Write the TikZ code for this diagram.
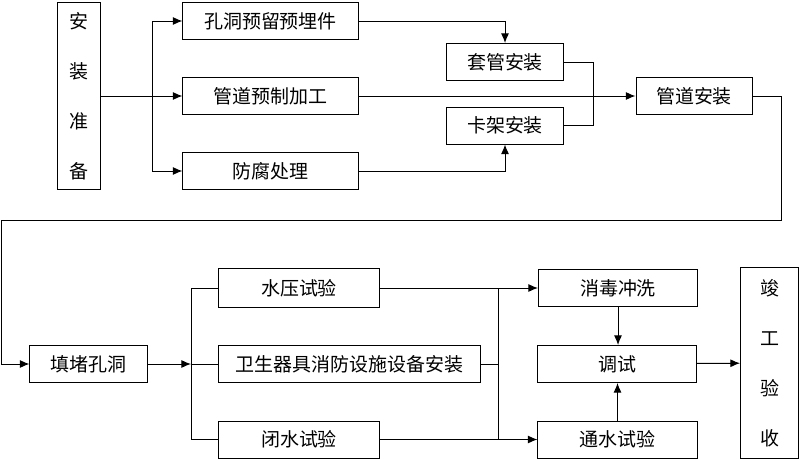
\documentclass[tikz,border=0pt]{standalone}
\usepackage{fontspec}
\setmainfont{Noto Sans CJK SC}
\usetikzlibrary{arrows.meta, positioning}

\begin{document}
\begin{tikzpicture}[
>={Latex[length=2.4mm,width=2mm]},
x=0.025cm, y=-0.025cm,
line width=0.7pt,
every node/.style={font=\fontsize{13.5}{16}\selectfont},
box/.style={draw, minimum height=0.925cm, inner sep=0pt},
vbox/.style={draw, align=center, inner sep=0pt, font=\fontsize{13.5}{35.5}\selectfont},
]
\useasboundingbox (0,0) rectangle (800,459);

%% upper row
% nodes
\node[vbox, minimum width=1.075cm, minimum height=4.675cm] (AZ) at (78.5,96) {安\\装\\准\\备};
\node[box, minimum width=4.375cm] (KD) at (270.5,21) {孔洞预留预埋件};
\node[box, minimum width=4.375cm] (GZ) at (270.5,96) {管道预制加工};
\node[box, minimum width=4.375cm] (FF) at (270.5,171) {防腐处理};
\node[box, minimum width=2.925cm] (TG) at (505,62) {套管安装};
\node[box, minimum width=2.925cm] (KJ) at (505,125.5) {卡架安装};
\node[box, minimum width=2.9cm] (GA) at (694,96) {管道安装};
\coordinate (B1) at (152,96);
\coordinate (R1) at (593,96);
\coordinate (C1) at (781,220);
\coordinate (C2) at (1,220);
% arrows
\draw[->] (AZ) -- (GZ);
\draw[->] (B1) |- (KD);
\draw[->] (B1) |- (FF);
\draw[->] (KD) -| (TG);
\draw[->] (FF) -| (KJ);
\draw[->] (GZ) -- (GA);
\draw (TG) -| (R1) |- (KJ);

%% lower row
% nodes
\node[box, minimum width=2.925cm] (TD) at (88.5,364) {填堵孔洞};
\node[box, minimum width=4cm, minimum height=0.975cm] (SY) at (299,288) {水压试验};
\node[box, minimum width=6.525cm] (WS) at (349.5,364) {卫生器具消防设施设备安装};
\node[box, minimum width=4cm] (BS) at (299,439.5) {闭水试验};
\node[box, minimum width=3.975cm] (XD) at (618,288) {消毒冲洗};
\node[box, minimum width=3.95cm] (TS) at (617,364) {调试};
\node[box, minimum width=3.975cm] (TW) at (617.5,439.5) {通水试验};
\node[vbox, minimum width=1.45cm, minimum height=4.75cm] (JG) at (769.5,363) {竣\\工\\验\\收};
\coordinate (B2) at (191,364);
\coordinate (B3) at (498,364);
% arrows
\draw[->] (GA) -| (C1) -- (C2) |- (TD);
\draw[->] (TD) -- (B2);
\draw (B2) |- (SY);
\draw (B2) |- (BS);
\draw (B2) -- (WS);
\draw[->] (SY) -- (XD);
\draw[->] (BS) -- (TW);
\draw (WS) -- (B3);
\draw (B3 |- SY) -- (B3 |- BS);
\draw[->] (XD) -- (XD |- TS.north);
\draw[->] (TW) -- (TW |- TS.south);
\draw[->] (TS) -- (JG);
\end{tikzpicture}
\end{document}
